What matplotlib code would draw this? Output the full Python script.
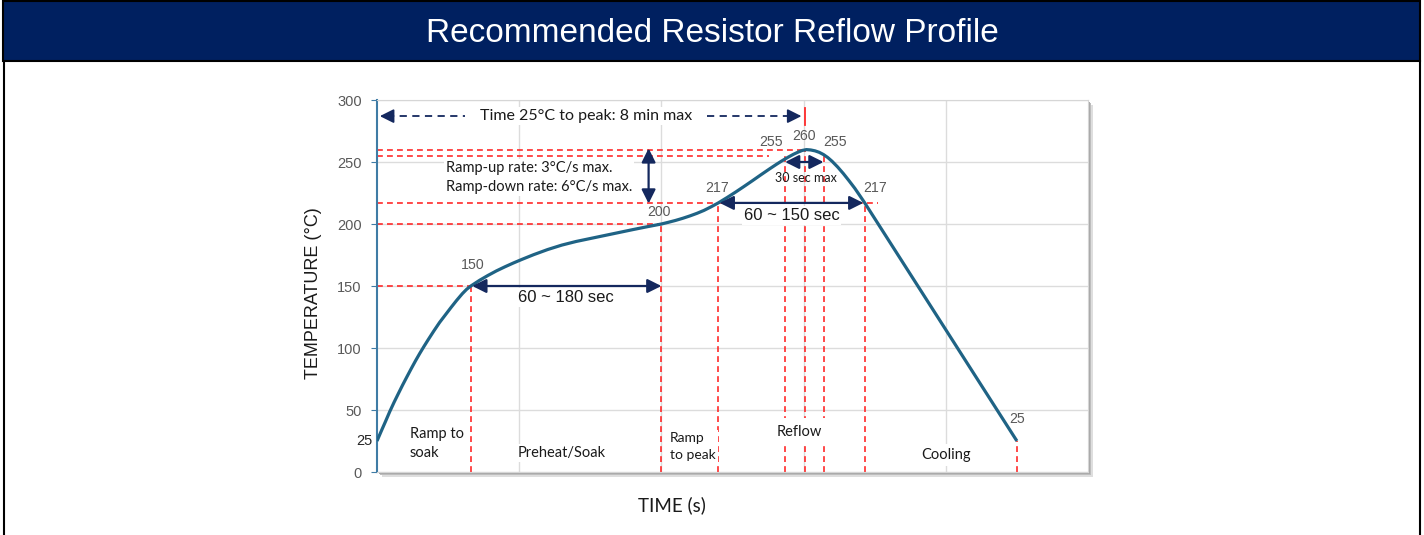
"""
Recommended resistor reflow profile
"""
import matplotlib.pyplot as plt
from matplotlib.patches import Rectangle
from matplotlib.lines import Line2D

# profile curve: time (s) and temperature (degC)
time_s = [0, 3, 6, 9, 12, 15, 18, 21, 24, 27, 30, 33, 36, 40, 44, 48, 52, 56,
          60, 63, 66, 72, 78, 84, 90, 96, 102, 110, 120, 130, 140, 150, 160,
          170, 180, 190, 200, 205, 210, 215, 220, 225, 230, 235, 240, 246, 252,
          258, 264, 270, 276, 281, 285, 289, 293, 296, 299, 302, 305, 308, 311,
          314, 317, 320, 324, 328, 332, 336, 340, 343, 450]
temp_c = [25, 33, 40.8, 48.8, 56.2, 63.2, 70.1, 76.7, 83.2, 89.5, 95.5, 101.2,
          106.7, 113.8, 120.6, 126.6, 132.6, 138.4, 143.8, 147.3, 150, 154.5,
          158.5, 162.2, 165.5, 168.6, 171.5, 175.2, 179.4, 183, 185.9, 188.3,
          190.7, 193.1, 195.5, 197.8, 200, 201.4, 202.9, 204.6, 206.5, 208.6,
          211, 213.9, 217, 221.2, 225.6, 230.2, 234.9, 239.7, 244.4, 248.2,
          251.1, 253.8, 256.3, 257.9, 259.3, 260, 259.7, 259, 257.8, 256,
          253.6, 250.6, 245.9, 240.6, 234.8, 228.8, 222.1, 217, 25]

# key points of the profile (dashed red drop lines + value labels)
key_times = [0, 66, 200, 240, 287, 301, 314, 343, 450]
key_temps = [25, 150, 200, 217, 255, 260, 255, 217, 25]

# horizontal guide levels and where each one stops (s)
level_temps = [150, 200, 217, 255, 260]
level_ends = [66, 200, 352, 276, 301]

y_ticks = [0, 50, 100, 150, 200, 250, 300]
x_grid = [100, 200, 300, 400]

phase_names = ['Ramp to\nsoak', 'Preheat/Soak', 'Ramp\nto peak', 'Reflow', 'Cooling']

W, H = 1424, 535
NAVY = '#14285e'
RED = '#ff2a2a'
CURVE = '#1f6385'
GREY = '#595959'
INK = '#1a1a1a'


def fx(px):
    return px / W


def fy(py):
    return 1 - py / H


fig = plt.figure(figsize=(W / 100, H / 100), dpi=100)

# title bar and outer frame
fig.patches.append(Rectangle((fx(3), fy(61)), fx(1420) - fx(3), fy(1) - fy(61),
                             transform=fig.transFigure, facecolor='#002060',
                             edgecolor='black', lw=1.5))
fig.lines.append(Line2D([fx(4), fx(4)], [0, fy(61)], transform=fig.transFigure,
                        color='black', lw=1.5))
fig.lines.append(Line2D([fx(1420), fx(1420)], [0, fy(61)], transform=fig.transFigure,
                        color='black', lw=1.5))
fig.text(fx(712), fy(34), 'Recommended Resistor Reflow Profile', color='white',
         fontsize=24, ha='center', va='center', family='Liberation Sans')

# plot area with a soft shadow
L, R, T, B = 377, 1088, 100, 472
for off, col in [(5, '#dedede'), (3, '#bdbdbd'), (2, '#a8a8a8')]:
    fig.patches.append(Rectangle((fx(L + off), fy(B + off)), fx(R - L), fy(T) - fy(B),
                                 transform=fig.transFigure, facecolor=col,
                                 edgecolor='none', zorder=-1))
ax = fig.add_axes([fx(L), fy(B), fx(R - L), fy(T) - fy(B)])
ax.set_xlim(0, 500)
ax.set_ylim(0, 300)
ax.set_xticks(x_grid)
ax.set_xticklabels([])
ax.tick_params(axis='x', length=0)
ax.set_yticks(y_ticks)
ax.tick_params(axis='y', length=4, color='#3f7ca5', labelcolor=GREY,
               labelsize=10.5, pad=7)
for lab in ax.get_yticklabels():
    lab.set_family('Liberation Sans')
ax.grid(color='#dcdcdc', lw=1)
ax.set_axisbelow(True)
for side in ['top', 'right', 'bottom']:
    ax.spines[side].set_color('#d6d6d6')
ax.spines['left'].set_color('#3f7ca5')
ax.spines['left'].set_linewidth(1.5)

ax.text(-0.007, 25, '25', transform=ax.get_yaxis_transform(), ha='right', va='center',
        fontsize=10.5, color='#262626', family='Liberation Sans')

ax.text(-0.09, 0.48, 'TEMPERATURE (°C)', transform=ax.transAxes, rotation=90,
        ha='center', va='center', fontsize=13, family='Liberation Sans', color=INK)
ax.text(0.415, -0.09, 'TIME (s)', transform=ax.transAxes, ha='center', va='center',
        fontsize=13.5, family='Lato', color=INK)

# red dashed guide lines
dash = dict(color=RED, lw=1.2, dashes=(3.5, 2.5), zorder=1)
for t, v in zip(level_temps, level_ends):
    ax.plot([0, v], [t, t], **dash)
for t, v in zip(key_times, key_temps):
    ax.plot([t, t], [0, v], **dash)
ax.plot([301, 301], [280, 293.5], color=RED, lw=1.3, zorder=1)

# profile curve
ax.plot(time_s, temp_c, color=CURVE, lw=2.3, zorder=5, solid_capstyle='butt',
        solid_joinstyle='round')

# value labels at the key points
lab_off = [(0, 0), (1.5, 17), (-2, 10), (-0.5, 12), (-10, 11.5), (-0.5, 11), (8, 11.5),
           (7, 12), (0, 17.5)]
for i, (t, v) in enumerate(zip(key_times, key_temps)):
    if i == 0:
        continue
    dx, dy = lab_off[i]
    ax.text(t + dx, v + dy, str(v), ha='center', va='center', fontsize=10.2,
            color=GREY, family='Liberation Sans', zorder=6)

box = dict(facecolor='white', edgecolor='none', pad=1.5)

# time 25C to peak dashed arrow
for seg in ([7, 62], [232, 292]):
    ax.plot(seg, [287, 287], color=NAVY, lw=1.3, dashes=(4, 3), zorder=2)
head = dict(arrowstyle='-|>,head_length=0.6,head_width=0.3', color=NAVY, lw=1.3,
            mutation_scale=14, shrinkA=0, shrinkB=0)
ax.annotate('', xy=(2, 287), xytext=(9, 287), arrowprops=head, zorder=3)
ax.annotate('', xy=(298.5, 287), xytext=(291, 287), arrowprops=head, zorder=3)
ax.text(147, 287, 'Time 25°C to peak: 8 min max', ha='center', va='center',
        fontsize=11.5, family='Lato', color=INK, bbox=box, zorder=4)

# solid double arrows
dbl = dict(arrowstyle='<|-|>,head_length=0.6,head_width=0.3', color=NAVY, lw=1.6,
           mutation_scale=14, shrinkA=0, shrinkB=0)
ax.annotate('', xy=(67, 150), xytext=(200, 150), arrowprops=dbl, zorder=6)
ax.annotate('', xy=(241, 217), xytext=(342, 217), arrowprops=dbl, zorder=6)
ax.annotate('', xy=(191, 261), xytext=(191, 216.5), arrowprops=dbl, zorder=6)
ax.annotate('', xy=(287, 250), xytext=(314, 250), arrowprops=dbl, zorder=6)

ax.text(133, 141, '60 ~ 180 sec', ha='center', va='center', fontsize=12,
        family='Liberation Sans', color=INK, bbox=box, zorder=4)
ax.text(291.5, 206.5, '60 ~ 150 sec', ha='center', va='center', fontsize=12,
        family='Liberation Sans', color=INK, bbox=box, zorder=4)
ax.text(301.5, 237, '30 sec max', ha='center', va='center', fontsize=9,
        family='Lato', color=INK, zorder=4)
ax.text(48.5, 237.5, 'Ramp-up rate: 3°C/s max.\nRamp-down rate: 6°C/s max.',
        ha='left', va='center', fontsize=10.5, family='Lato', color=INK,
        linespacing=1.45, bbox=box, zorder=4)

# phase labels
ax.text(23, 23, phase_names[0], ha='left', va='center', fontsize=10.5, family='Lato',
        color=INK, linespacing=1.4, bbox=box, zorder=4)
ax.text(129.5, 15.3, phase_names[1], ha='center', va='center', fontsize=10.5,
        family='Lato', color=INK, bbox=box, zorder=4)
ax.text(206, 20.5, phase_names[2], ha='left', va='center', fontsize=10, family='Lato',
        color=INK, linespacing=1.45, bbox=box, zorder=4)
ax.text(297, 32.3, phase_names[3], ha='center', va='center', fontsize=10.5,
        family='Lato', color=INK, bbox=dict(facecolor='white', edgecolor='none', pad=5),
        zorder=4)
ax.text(400.5, 13.7, phase_names[4], ha='center', va='center', fontsize=10.5,
        family='Lato', color=INK, bbox=dict(facecolor='white', edgecolor='none', pad=3),
        zorder=4)

fig.savefig('out.png', dpi=100)
